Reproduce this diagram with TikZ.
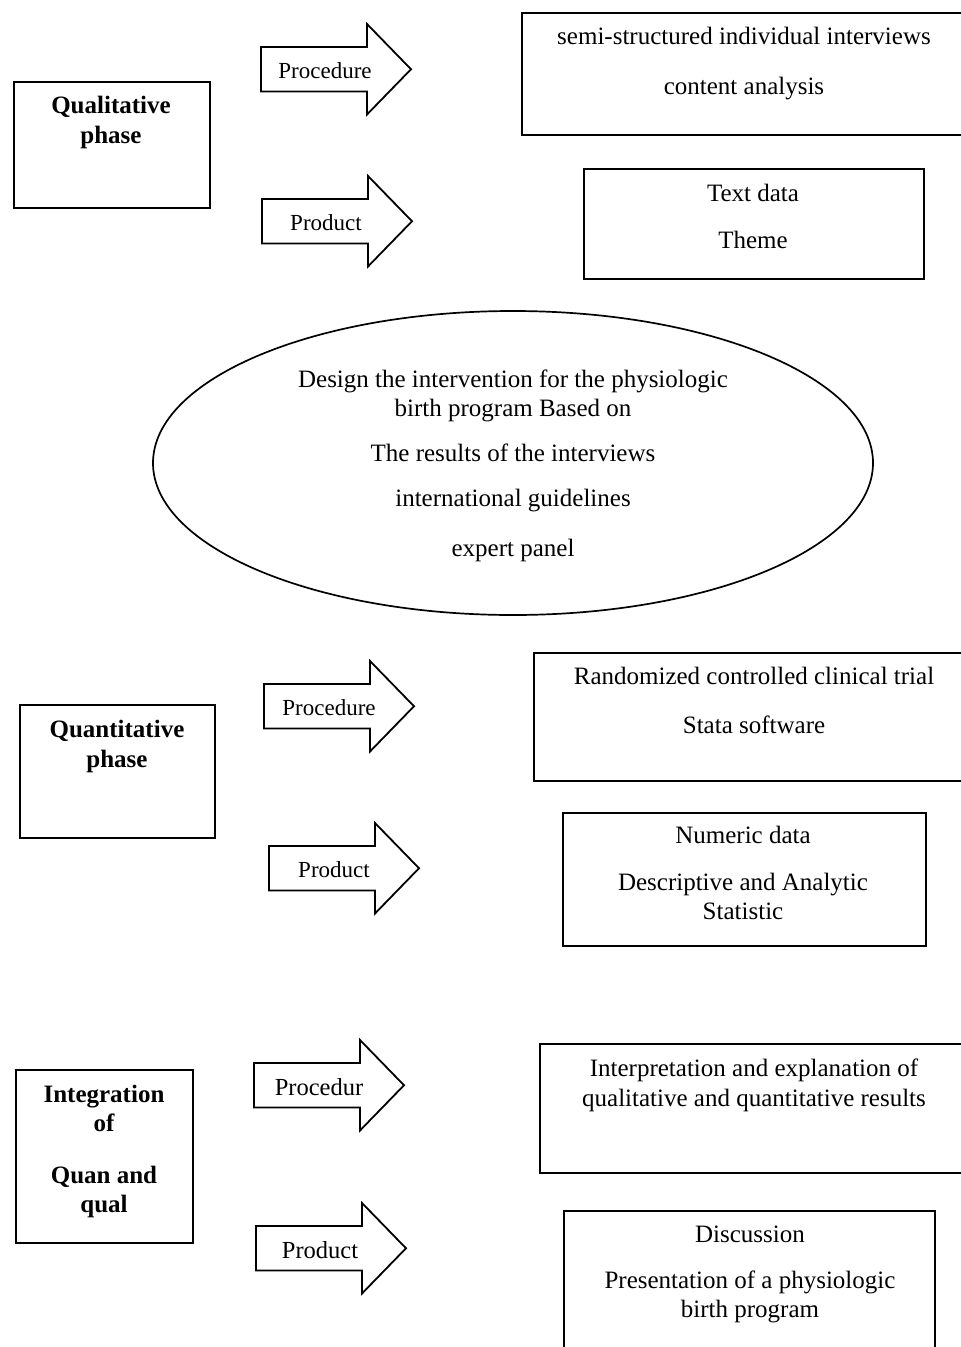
\documentclass[tikz,border=0pt]{standalone}
\usepackage{fontspec}
\setmainfont{Liberation Serif}
\usetikzlibrary{shapes.geometric}
\tikzset{
  boxshape/.style={draw, line width=1.8pt, rectangle, inner sep=0pt, anchor=north west},
  ovalshape/.style={draw, line width=1.7pt, ellipse, inner sep=0pt},
  arrowshape/.style={draw, line width=1.8pt, line join=miter},
  txt/.style={anchor=base, inner sep=0pt, font=\fontsize{25}{29.5}\selectfont},
  btxt/.style={anchor=base, inner sep=0pt, font=\fontsize{25}{29.5}\selectfont\bfseries},
  atxt/.style={anchor=base, inner sep=0pt, font=\fontsize{23}{27}\selectfont},
  atxtb/.style={anchor=base, inner sep=0pt, font=\fontsize{24.5}{28}\selectfont},
}
% #1 name, #2 x of body left, #3 y of body top
\newcommand{\blockarr}[3]{%
  \coordinate (#1) at (#2,#3);
  \draw[arrowshape] (#1) -- ++(106,0) -- ++(0,-23) -- ++(44,45.25) -- ++(-44,45.25) -- ++(0,-23) -- ++(-106,0) -- cycle;
}
\begin{document}
\begin{tikzpicture}[x=1pt,y=-1pt]
\useasboundingbox (0,0) rectangle (961,1347);
\fill[white] (0,0) rectangle (961,1347);
\clip (0,0) rectangle (961,1347);

% ---------- Qualitative phase ----------
\node[boxshape, minimum width=196pt, minimum height=126pt] (qualbox) at (13,81) {};
\node[btxt] (qualt1) at (111,113) {Qualitative};
\node[btxt] (qualt2) at (111,143) {phase};

\blockarr{qualproc}{261}{47}
\node[atxt] (qualproct) at (325,78) {Procedure};
\blockarr{qualprod}{262}{199}
\node[atxt] (qualprodt) at (326,230) {Product};

\node[boxshape, minimum width=460pt, minimum height=122pt] (qualprocbox) at (521,12) {};
\node[txt] (qp1) at (744,44) {semi-structured individual interviews};
\node[txt] (qp2) at (744,94) {content analysis};

\node[boxshape, minimum width=340pt, minimum height=110pt] (qualprodbox) at (583,168) {};
\node[txt] (qd1) at (753,201) {Text data};
\node[txt] (qd2) at (753,248) {Theme};

% ---------- Ellipse ----------
\node[ovalshape, minimum width=720pt, minimum height=304pt] (design) at (513,463) {};
\node[txt] (e1) at (513,387) {Design the intervention for the physiologic};
\node[txt] (e2) at (513,416) {birth program Based on};
\node[txt] (e3) at (513,461) {The results of the interviews};
\node[txt] (e4) at (513,506) {international guidelines};
\node[txt] (e5) at (513,556) {expert panel};

% ---------- Quantitative phase ----------
\node[boxshape, minimum width=195pt, minimum height=133pt] (quanbox) at (19,704) {};
\node[btxt] (quant1) at (117,737) {Quantitative};
\node[btxt] (quant2) at (117,767) {phase};

\blockarr{quanproc}{264}{684}
\node[atxt] (quanproct) at (329,715) {Procedure};
\blockarr{quanprod}{269}{846}
\node[atxt] (quanprodt) at (334,877) {Product};

\node[boxshape, minimum width=450pt, minimum height=128pt] (quanprocbox) at (533,652) {};
\node[txt] (np1) at (754,684) {Randomized controlled clinical trial};
\node[txt] (np2) at (754,733) {Stata software};

\node[boxshape, minimum width=363pt, minimum height=133pt] (quanprodbox) at (562,812) {};
\node[txt] (nd1) at (743,843) {Numeric data};
\node[txt] (nd2) at (743,890) {Descriptive and Analytic};
\node[txt] (nd3) at (743,919) {Statistic};

% ---------- Integration ----------
\node[boxshape, minimum width=177pt, minimum height=173pt] (intbox) at (15,1069) {};
\node[btxt] (intt1) at (104,1102) {Integration};
\node[btxt] (intt2) at (104,1131) {of};
\node[btxt] (intt3) at (104,1183) {Quan and};
\node[btxt] (intt4) at (104,1212) {qual};

\blockarr{intproc}{254}{1063}
\node[atxtb] (intproct) at (319,1095) {Procedur};
\blockarr{intprod}{256}{1226}
\node[atxtb] (intprodt) at (320,1258) {Product};

\node[boxshape, minimum width=440pt, minimum height=129pt] (intprocbox) at (539,1043) {};
\node[txt] (ip1) at (754,1076) {Interpretation and explanation of};
\node[txt] (ip2) at (754,1106) {qualitative and quantitative results};

\node[boxshape, minimum width=371pt, minimum height=160pt] (intprodbox) at (563,1210) {};
\node[txt] (id1) at (750,1242) {Discussion};
\node[txt] (id2) at (750,1288) {Presentation of a physiologic};
\node[txt] (id3) at (750,1317) {birth program};
\end{tikzpicture}
\end{document}
